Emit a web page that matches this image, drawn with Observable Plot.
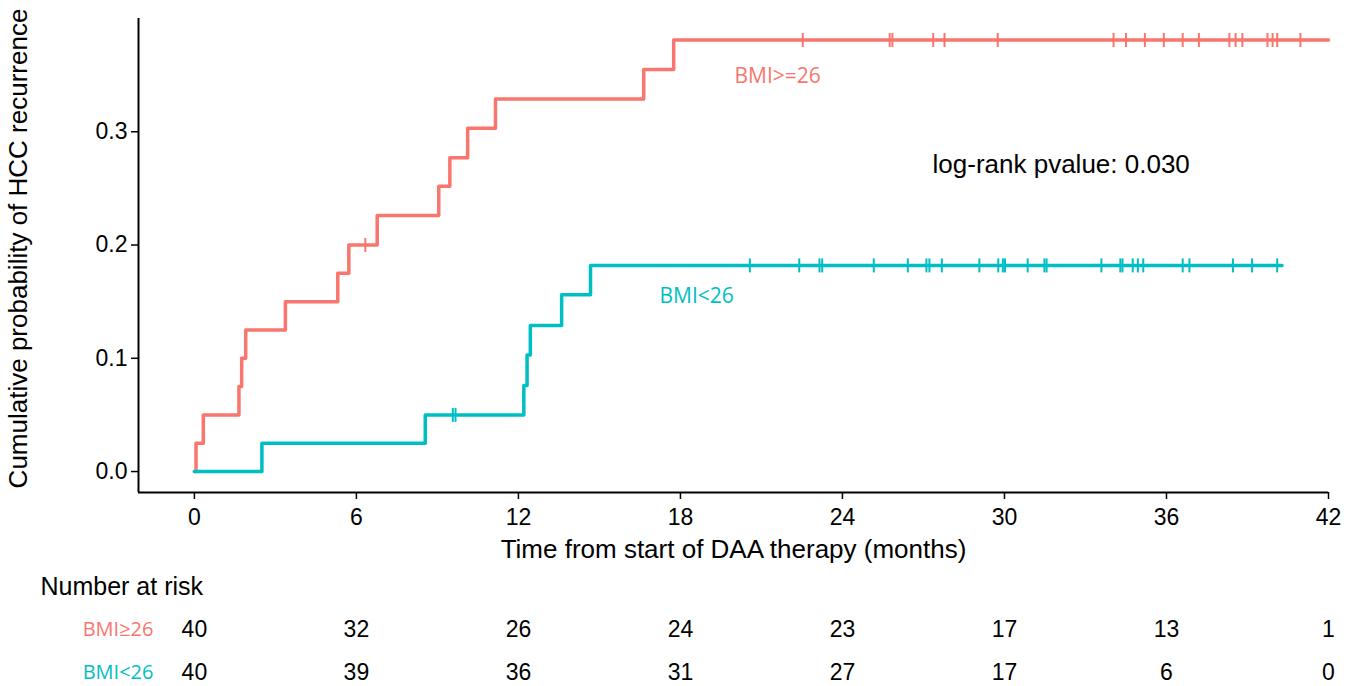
<!DOCTYPE html>
<html><head><meta charset="utf-8">
<script src="https://cdn.jsdelivr.net/npm/d3@7"></script>
<script src="https://cdn.jsdelivr.net/npm/@observablehq/plot@0.6"></script>
<style>body{margin:0;background:#fff;overflow:hidden;} #chart svg{display:block;}</style>
</head><body><div id="chart"></div>
<script>
// ---- data ----
const groupNames = ["BMI>=26", "BMI<26"];
const riskLabels = ["BMI\u226526", "BMI<26"];
const groupColors = ["#F8766D", "#00BFC4"];

// step times (months) and cumulative probability after each step
const highTimes = [0, 0.06, 0.33, 1.65, 1.75, 1.9, 3.37, 5.31, 5.72, 6.77, 9.05, 9.46, 10.12, 11.15, 16.64, 17.75];
const highProb  = [0, 0.025, 0.05, 0.075, 0.1, 0.125, 0.15, 0.175, 0.2, 0.226, 0.252, 0.277, 0.303, 0.329, 0.355, 0.381];
const highEnd = 42;
const highCensor = [6.33, 22.53, 25.75, 25.85, 27.36, 27.78, 29.75, 34.04, 34.5, 35.2, 35.9, 36.6, 37.2, 38.33, 38.56, 38.81, 39.74, 39.93, 40.1, 40.96];

const lowTimes = [0, 2.5, 8.55, 12.2, 12.32, 12.44, 13.6, 14.67];
const lowProb  = [0, 0.025, 0.05, 0.076, 0.103, 0.129, 0.156, 0.182];
const lowEnd = 40.28;
const lowCensor = [9.57, 9.67, 20.57, 22.4, 23.15, 23.25, 25.16, 26.42, 27.11, 27.22, 27.68, 29.07, 29.77, 29.94, 30.02, 30.86, 31.48, 31.56, 33.59, 34.29, 34.37, 34.75, 34.94, 35.14, 36.6, 36.85, 38.46, 39.17, 40.1];

const xTicks = [0, 6, 12, 18, 24, 30, 36, 42];
const yTicks = [0, 0.1, 0.2, 0.3];
const riskTimes = [0, 6, 12, 18, 24, 30, 36, 42];
const riskHigh = [40, 32, 26, 24, 23, 17, 13, 1];
const riskLow  = [40, 39, 36, 31, 27, 17, 6, 0];

const xDomain = [-2.07, 42];
const yDomain = [-0.0185, 0.40];
const pText = "log-rank pvalue: 0.030";
const xTitle = "Time from start of DAA therapy (months)";
const yTitle = "Cumulative probability of HCC recurrence";
const riskTitle = "Number at risk";

// ---- build tables ----
function stepRows(times, probs, end, g) {
  const rows = times.map((t, i) => ({t, p: probs[i], g}));
  rows.push({t: end, p: probs[probs.length - 1], g});
  return rows;
}
function stepAt(times, probs, t) {
  let v = probs[0];
  for (let i = 0; i < times.length; i++) if (times[i] <= t) v = probs[i];
  return v;
}
const curves = [
  ...stepRows(highTimes, highProb, highEnd, groupNames[0]),
  ...stepRows(lowTimes, lowProb, lowEnd, groupNames[1])
];
const censors = [
  ...highCensor.map(t => ({t, p: stepAt(highTimes, highProb, t), g: groupNames[0]})),
  ...lowCensor.map(t => ({t, p: stepAt(lowTimes, lowProb, t), g: groupNames[1]}))
];
const vbar = {draw(ctx, size) { const h = Math.sqrt(size / Math.PI); ctx.moveTo(0, -h); ctx.lineTo(0, h); }};
const colorScale = {domain: groupNames, range: groupColors};

const W = 1357, H1 = 565, H2 = 121;
const font = "'Liberation Sans', Arial, Helvetica, sans-serif";
const labelFont = "'Open Sans', 'Noto Sans', sans-serif";

const main = Plot.plot({
  width: W, height: H1,
  marginLeft: 138, marginRight: 29, marginTop: 18, marginBottom: 73,
  style: {fontFamily: font, background: "#fff", color: "#000"},
  x: {domain: xDomain},
  y: {domain: yDomain},
  color: colorScale,
  marks: [
    Plot.axisX({ticks: xTicks, tickSize: 7, tickPadding: 9, fontSize: 23, label: null, tickFormat: d => String(d), strokeWidth: 1.5}),
    Plot.axisY({ticks: yTicks, tickSize: 7, tickPadding: 4, fontSize: 23, label: null, tickFormat: d3.format(".1f"), strokeWidth: 1.5}),
    Plot.ruleY([yDomain[0]], {stroke: "#000", strokeWidth: 2}),
    Plot.ruleX([xDomain[0]], {stroke: "#000", strokeWidth: 2}),
    Plot.line(curves, {x: "t", y: "p", z: "g", stroke: "g", curve: "step-after", strokeWidth: 3.5}),
    Plot.dot(censors, {x: "t", y: "p", stroke: "g", symbol: vbar, r: 7, strokeWidth: 2}),
    Plot.text([groupNames[0]], {x: 21.6, y: 0.349, text: d => d, fill: groupColors[0], fontSize: 21, fontFamily: labelFont}),
    Plot.text([groupNames[1]], {x: 18.6, y: 0.155, text: d => d, fill: groupColors[1], fontSize: 21, fontFamily: labelFont}),
    Plot.text([pText], {x: 32.1, y: 0.271, text: d => d, fill: "#000", fontSize: 26}),
    Plot.text([xTitle], {frameAnchor: "bottom", dy: 65, text: d => d, fill: "#000", fontSize: 26, textAnchor: "middle"}),
    Plot.text([yTitle], {frameAnchor: "left", dx: -120, dy: -7, rotate: -90, text: d => d, fill: "#000", fontSize: 26, textAnchor: "middle"})
  ]
});

const riskRows = [
  ...riskTimes.map((t, i) => ({t, n: riskHigh[i], row: riskLabels[0]})),
  ...riskTimes.map((t, i) => ({t, n: riskLow[i], row: riskLabels[1]}))
];
const rowDomain = [riskTitle, ...riskLabels];

const table = Plot.plot({
  width: W, height: H2,
  marginLeft: 138, marginRight: 29, marginTop: 0, marginBottom: 0,
  style: {fontFamily: font, background: "#fff", color: "#000"},
  x: {domain: xDomain, axis: null},
  y: {type: "point", domain: rowDomain, range: [21, 107], padding: 0, axis: null},
  marks: [
    Plot.text([riskTitle], {frameAnchor: "left", dx: -98, y: d => d, text: d => d, textAnchor: "start", fontSize: 25, fill: "#000"}),
    Plot.text(riskLabels, {frameAnchor: "left", dx: 15, y: d => d, text: d => d, textAnchor: "end", fontSize: 20, fontFamily: labelFont, fill: (d, i) => groupColors[i]}),
    Plot.text(riskRows, {x: "t", y: "row", text: d => String(d.n), fontSize: 23, fill: "#000"})
  ]
});

document.getElementById("chart").append(main, table);
</script>
</body></html>
